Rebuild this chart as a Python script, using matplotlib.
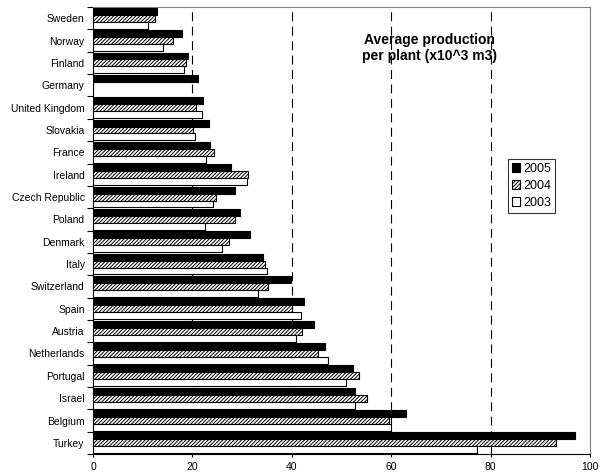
import numpy as np
import matplotlib.pyplot as plt

plt.rcParams['font.family'] = ['Liberation Sans', 'DejaVu Sans']
plt.rcParams['hatch.linewidth'] = 0.7

countries = ['Sweden', 'Norway', 'Finland', 'Germany', 'United Kingdom', 'Slovakia',
             'France', 'Ireland', 'Czech Republic', 'Poland', 'Denmark', 'Italy',
             'Switzerland', 'Spain', 'Austria', 'Netherlands', 'Portugal', 'Israel',
             'Belgium', 'Turkey']
y2005 = [12.8, 18.0, 19.2, 21.1, 22.1, 23.4, 23.5, 27.8, 28.6, 29.5, 31.5, 34.3,
         39.8, 42.4, 44.4, 46.7, 52.3, 52.7, 62.9, 96.9]
y2004 = [12.5, 16.0, 18.8, 0, 20.7, 20.1, 24.4, 31.2, 24.8, 28.6, 27.4, 34.7,
         35.3, 40.0, 42.1, 45.2, 53.6, 55.2, 59.5, 93.2]
y2003 = [11.1, 14.1, 18.4, 0, 21.9, 20.6, 22.7, 31.0, 24.1, 22.6, 26.0, 35.0,
         33.3, 41.9, 40.9, 47.2, 51.0, 52.8, 60.0, 77.2]

fig = plt.figure(figsize=(6.06, 4.72), dpi=100)
ax = fig.add_axes([0.1535, 0.038, 0.82, 0.947])

pos = np.arange(len(countries))
h = 0.31
ax.barh(pos - h, y2005, height=h, color='black', edgecolor='black', lw=0.8,
        label='2005', zorder=3)
ax.barh(pos, y2004, height=h, color='white', edgecolor='black', lw=0.8,
        hatch='/////////', label='2004', zorder=3)
ax.barh(pos + h, y2003, height=h, color='white', edgecolor='black', lw=0.8,
        label='2003', zorder=3)

ax.set_xlim(0, 100)
ax.set_ylim(len(countries) - 0.5, -0.5)
ax.set_xticks([0, 20, 40, 60, 80, 100])
ax.set_yticks(pos)
ax.set_yticklabels(countries)
ax.set_yticks(np.arange(len(countries) + 1) - 0.5, minor=True)
ax.tick_params(axis='y', which='major', length=0, labelsize=7.5, pad=6)
ax.tick_params(axis='y', which='minor', length=4, direction='out', width=0.8)
ax.tick_params(axis='x', length=4, direction='inout', width=0.8, labelsize=7.5)

for v in [20, 40, 60, 80]:
    ax.axvline(v, color='black', lw=0.8, ls=(0, (8, 5)), zorder=1)

ax.spines['top'].set_color('#808080')
ax.spines['right'].set_color('#808080')
for s in ax.spines.values():
    s.set_linewidth(0.8)

ax.text(0.678, 0.943, 'Average production\nper plant (x10^3 m3)', transform=ax.transAxes,
        ha='center', va='top', fontsize=10, fontweight='bold', linespacing=1.2)

leg = ax.legend(loc='upper left', bbox_to_anchor=(0.835, 0.66),
                fontsize=9, frameon=True, fancybox=False, edgecolor='black',
                handlelength=0.7, handleheight=0.7, handletextpad=0.2,
                borderpad=0.3, labelspacing=0.4, borderaxespad=0)
leg.get_frame().set_linewidth(0.8)

fig.savefig('out.png', dpi=100)
